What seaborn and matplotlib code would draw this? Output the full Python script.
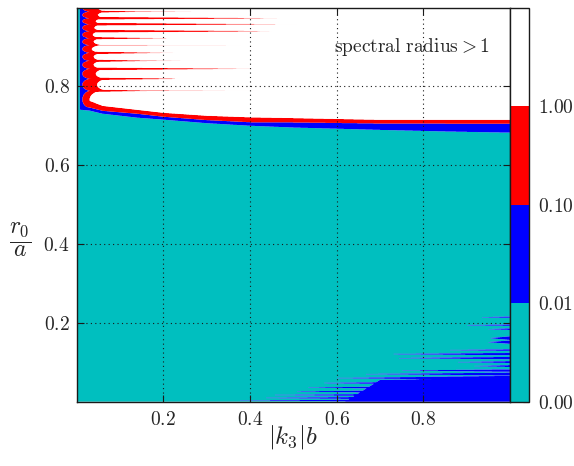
import numpy as np
import matplotlib
matplotlib.use("Agg")
import matplotlib.pyplot as plt
import seaborn as sns

# ---------------- data ----------------
# main band: upper edge of each colour band versus |k3| b
band_x   = [0.0, 0.03, 0.06, 0.14, 0.2, 0.3, 0.4, 0.5, 0.7, 0.85, 1.0]
cyan_top = [0.742, 0.739, 0.731, 0.721, 0.716, 0.707, 0.7005, 0.696, 0.690, 0.686, 0.683]
blue_top = [0.752, 0.747, 0.7385, 0.731, 0.7235, 0.715, 0.7095, 0.709, 0.7063, 0.706, 0.7056]
red_top  = [0.775, 0.764, 0.751, 0.741, 0.7335, 0.726, 0.722, 0.720, 0.7157, 0.7157, 0.7157]

# fringes near |k3| b -> 0 : red spikes (centre, solid end, faint end)
spike_y       = [0.9899, 0.9732, 0.958, 0.9403, 0.9225, 0.9048, 0.8853, 0.8651, 0.8448, 0.8195, 0.7891]
spike_solid_x = [0.135, 0.40, 0.40, 0.40, 0.169, 0.054, 0.176, 0.162, 0.338, 0.22, 0.162]
spike_end_x   = [0.338, 0.486, 0.508, 0.462, 0.239, 0.453, 0.239, 0.285, 0.423, 0.234, 0.446]
# lobes between spikes: tip of the white tongue
lobe_edges = [1.01] + spike_y + [0.745]
lobe_tip_x = [0.05, 0.05, 0.045, 0.042, 0.038, 0.04, 0.036, 0.04, 0.04, 0.045, 0.048, 0.031]

# blue streaks at bottom right (centre, start x, half width at right edge)
streak_y  = [0.2144, 0.1942, 0.1841, 0.1613, 0.1511, 0.1309, 0.1208, 0.1106, 0.1005, 0.0904,
             0.0790, 0.0701, 0.0600, 0.0473, 0.0359, 0.0258, 0.0170, 0.0094, 0.0030]
streak_x0 = [0.931, 0.885, 0.947, 0.954, 0.949, 0.854, 0.711, 0.734, 0.880, 0.914,
             0.751, 0.658, 0.601, 0.557, 0.527, 0.492, 0.458, 0.428, 0.377]
streak_hw = [0.0014, 0.0014, 0.0018, 0.0045, 0.0040, 0.0018, 0.0028, 0.0028, 0.0022, 0.0022,
             0.0030, 0.0035, 0.0055, 0.0060, 0.0060, 0.0060, 0.0060, 0.0060, 0.0045]
bottom_x   = [0.62, 0.70, 1.0]
bottom_top = [0.0, 0.055, 0.060]

levels       = [0.0, 0.01, 0.1, 1.0, 10.0]
band_values  = [0.005, 0.05, 0.5, 5.0]
level_colors = ["#00bfbf", "#0000ff", "#ff0000", "#ffffff"]
cbar_ticks   = [0.0, 0.01, 0.1, 1.0]
cbar_labels  = ["$0.00$", "$0.01$", "$0.10$", "$1.00$"]
xticks = [0.2, 0.4, 0.6, 0.8]
xtick_labels = ["$0.2$", "$0.4$", "$0.6$", "$0.8$"]
yticks = [0.2, 0.4, 0.6, 0.8]
ytick_labels = ["$0.2$", "$0.4$", "$0.6$", "$0.8$"]

# ---------------- build the field ----------------
x = np.linspace(0.0, 1.0, 800)
y = np.linspace(0.0, 1.0, 2001)
X, Y = np.meshgrid(x, y)

ct = np.interp(x, band_x, cyan_top)[None, :]
bt = np.interp(x, band_x, blue_top)[None, :]
rt = np.interp(x, band_x, red_top)[None, :]
vert = np.full(X.shape, 3)
vert[Y < rt] = 2
vert[np.broadcast_to(Y < bt, X.shape)] = 1
vert[np.broadcast_to(Y < ct, X.shape)] = 0

col_x, blue_c, blue_e, lobe_r = 0.0085, 0.014, 0.034, 0.03
horiz = np.full(X.shape, 3)
for k in range(len(lobe_tip_x)):
    top, bot = lobe_edges[k], lobe_edges[k + 1]
    rows = (y >= bot) & (y < top)
    c, half = 0.5 * (top + bot), 0.5 * (top - bot)
    u = np.clip(np.abs(y[rows] - c) / half, 0, 1)[:, None]
    rnd = 1 - np.sqrt(1 - u ** 2)
    xw = lobe_tip_x[k] + lobe_r * rnd
    xb = blue_c + (blue_e - blue_c) * rnd
    sub = np.full((rows.sum(), len(x)), 3)
    sub[X[rows] < xw] = 2
    sub[X[rows] < xb] = 1
    horiz[rows] = sub
for yk, xs, xe in zip(spike_y, spike_solid_x, spike_end_x):
    h = np.interp(x, [0.0, xs, xe], [0.004, 0.0011, 0.0])[None, :]
    horiz = np.where(np.abs(Y - yk) < h, np.minimum(horiz, 2), horiz)
horiz[X < col_x] = 0

band = np.minimum(vert, horiz)

streak = np.zeros(X.shape, dtype=bool)
for yk, x0, hw in zip(streak_y, streak_x0, streak_hw):
    h = np.clip((x - x0) / (1 - x0), 0, None)[None, :] * hw
    streak |= np.abs(Y - yk) < h
streak |= Y < np.interp(x, bottom_x, bottom_top)[None, :]
band = np.where(streak & (band == 0), 1, band)

Z = np.array(band_values)[band]

# ---------------- draw ----------------
sns.set_theme(style="ticks")
plt.rcParams["mathtext.fontset"] = "cm"
plt.rcParams["font.family"] = ["DejaVu Serif"]

fig = plt.figure(figsize=(5.74, 4.66), dpi=100)
ax = fig.add_axes([0.1334, 0.138, 0.7551, 0.8455])
cs = ax.contourf(x, y, Z, levels=levels, colors=level_colors, antialiased=True)
ax.set_xlim(0, 1)
ax.set_ylim(0, 1)
ax.set_xticks(xticks)
ax.set_xticklabels(xtick_labels, fontsize=14)
ax.set_yticks(yticks)
ax.set_yticklabels(ytick_labels, fontsize=14)
ax.tick_params(direction="in", length=5, width=0.8, top=True, right=True, color="k")
ax.tick_params(axis="x", pad=7)
ax.tick_params(axis="y", pad=5)
ax.set_axisbelow(False)
ax.grid(True, color="k", linestyle=(0, (1, 3)), linewidth=0.8)
for s in ax.spines.values():
    s.set_color("k")
    s.set_linewidth(1.0)

ax.set_xlabel(r"$|k_3|b$", fontsize=18, va="center")
ax.xaxis.set_label_coords(0.5, -0.09)
ax.set_ylabel(r"$\dfrac{r_0}{a}$", fontsize=17, rotation=0, va="center", ha="center")
ax.yaxis.set_label_coords(-0.13, 0.41)
ax.text(0.595, 0.90, r"$\mathrm{spectral\ radius} > 1$", fontsize=14,
        transform=ax.transData, va="center", ha="left")

cax = fig.add_axes([0.8885, 0.138, 0.0336, 0.8455])
cbar = fig.colorbar(cs, cax=cax, ticks=cbar_ticks)
cbar.ax.set_yticklabels(cbar_labels, fontsize=14)
cax.tick_params(direction="in", length=4, width=0.8, right=True, left=False, pad=6, color="k")
cbar.outline.set_edgecolor("k")
cbar.outline.set_linewidth(1.0)

fig.savefig("out.png", dpi=100)
